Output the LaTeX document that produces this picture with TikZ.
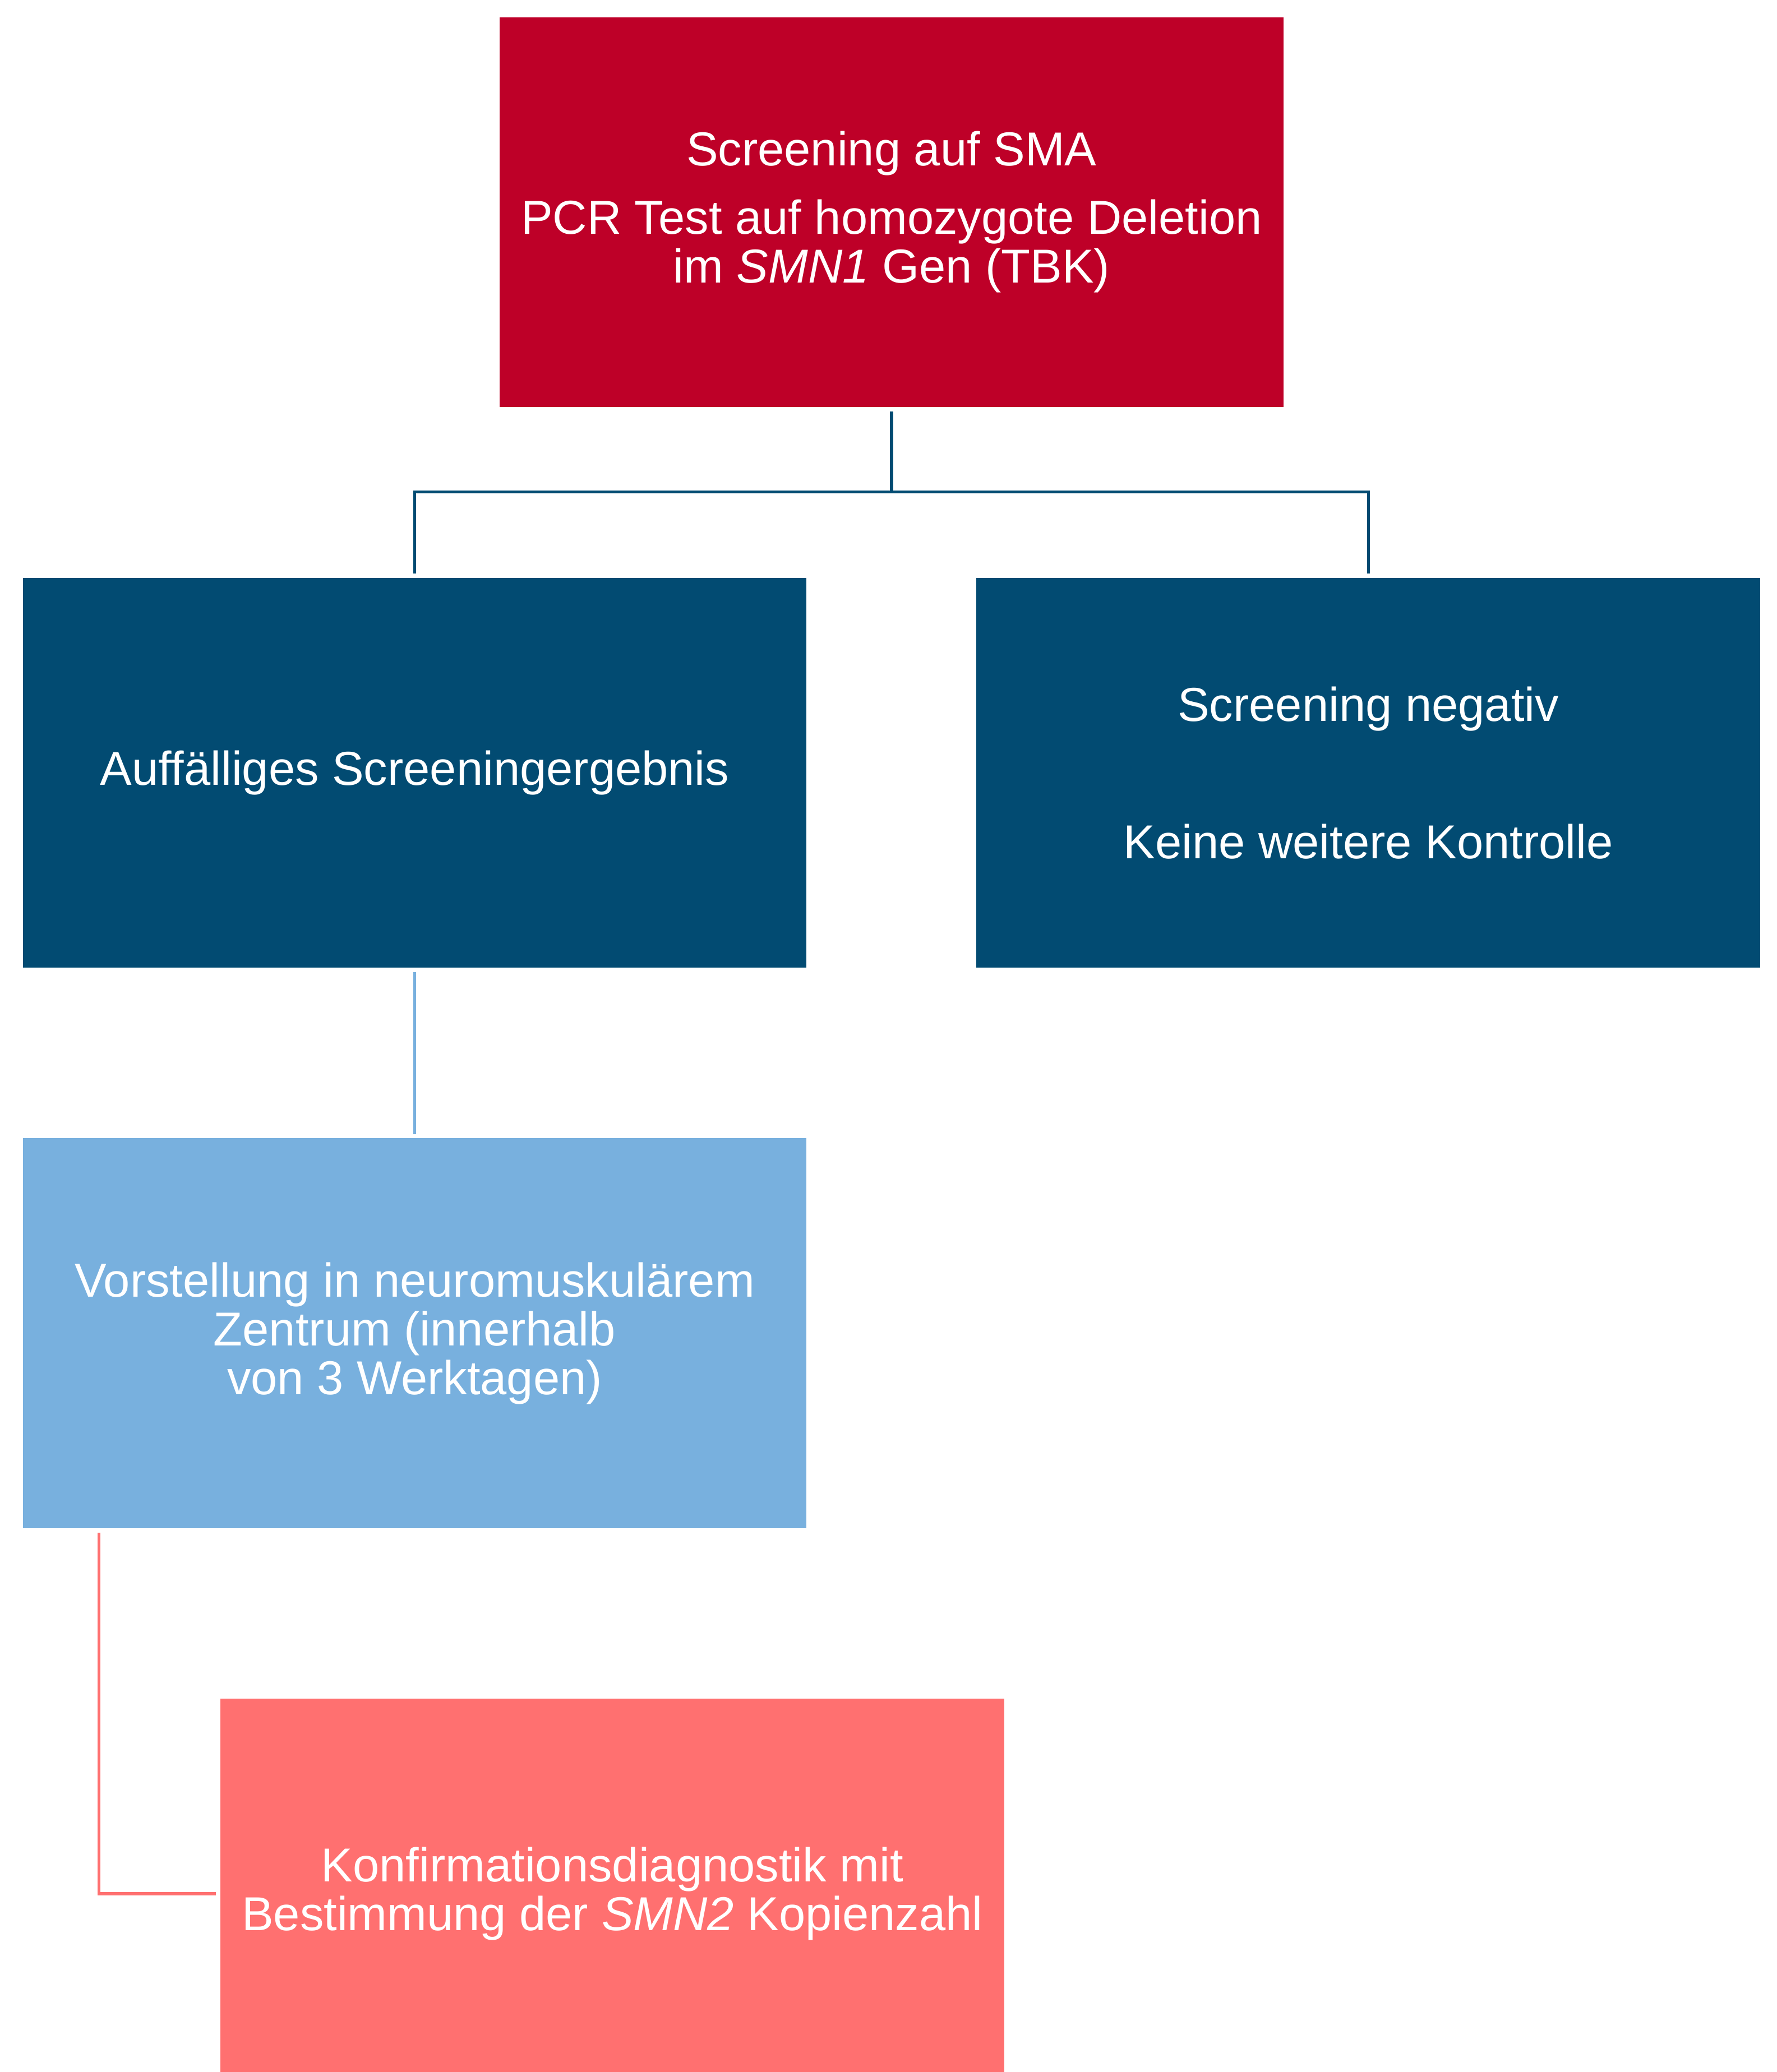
\documentclass[tikz,border=0pt]{standalone}
\usepackage{fontspec}
\setmainfont{Liberation Sans}
\usepackage{tikz}
\usetikzlibrary{positioning}

\definecolor{smared}{HTML}{BE0028}
\definecolor{darkblue}{HTML}{024B72}
\definecolor{lightblue}{HTML}{78B0DE}
\definecolor{salmon}{HTML}{FF7070}

\begin{document}
\begin{tikzpicture}[node distance=2.57cm,every node/.style={font=\fontsize{20.5}{21}\selectfont},box/.style={minimum width=11.86cm,minimum height=5.9cm,inner sep=0pt,align=center,text=white},link/.style={line width=1.3pt,shorten <=0.06cm,shorten >=0.06cm}]
\useasboundingbox (-13.49,3.21) rectangle (13.39,-28.15);
\node[box,fill=smared] (screen) {Screening auf SMA\\[0.3cm]PCR Test auf homozygote Deletion\\im \textit{SMN1} Gen (TBK)};
\node[box,fill=darkblue,below=of screen,xshift=-7.215cm] (pos) {Auffälliges Screeningergebnis};
\node[box,fill=darkblue,below=of screen,xshift=7.215cm] (neg) {Screening negativ\\[1.34cm]Keine weitere Kontrolle};
\node[box,fill=lightblue,below=of pos] (centre) {Vorstellung in neuromuskulärem\\Zentrum (innerhalb\\von 3 Werktagen)};
\node[box,fill=salmon,below=of centre,xshift=2.99cm] (confirm) {Konfirmationsdiagnostik mit\\Bestimmung der \textit{SMN2} Kopienzahl};
\draw[link,draw=darkblue,shorten >=0pt] (screen.south) -- ++(0,-1.28) coordinate (fork);
\draw[link,draw=darkblue,shorten <=0pt] (fork) -| (pos.north);
\draw[link,draw=darkblue,shorten <=0pt] (fork) -| (neg.north);
\draw[link,draw=lightblue] (pos) -- (centre);
\draw[link,draw=salmon] ([xshift=1.16cm]centre.south west) |- (confirm.west);
\end{tikzpicture}
\end{document}
